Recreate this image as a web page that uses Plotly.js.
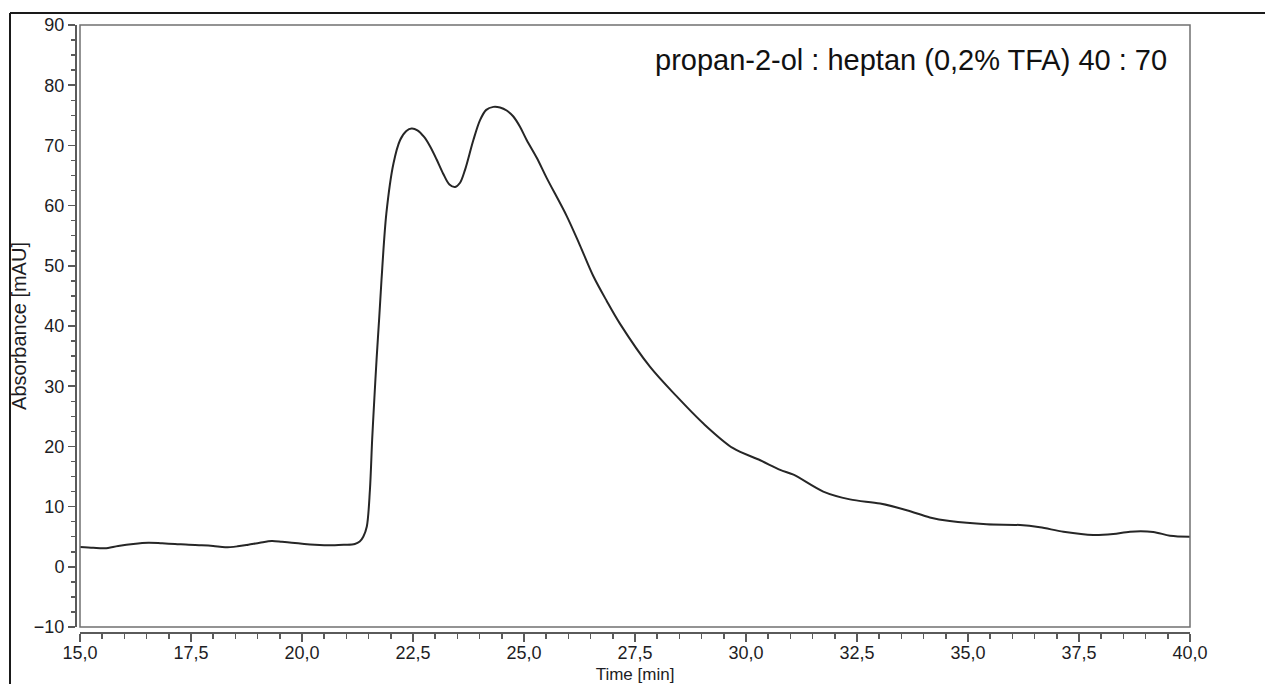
<!DOCTYPE html>
<html>
<head>
<meta charset="utf-8">
<script src="https://cdn.plot.ly/plotly-3.0.1.min.js"></script>
<style>
  html, body { margin: 0; padding: 0; background: #fff; }
  #chart { width: 1265px; height: 684px; }
</style>
</head>
<body>
<div id="chart"></div>
<script>
// Chromatogram trace: retention time [min] vs absorbance [mAU]
const timeMin = [
  15.0, 15.3, 15.56, 15.86, 16.2, 16.54, 16.85, 17.14, 17.45, 17.74,
  18.0, 18.27, 18.55, 18.79, 19.05, 19.32, 19.55, 19.77, 20.05, 20.29,
  20.5, 20.74, 20.95, 21.19, 21.3, 21.38, 21.46, 21.53, 21.58, 21.63,
  21.68, 21.74, 21.79, 21.9, 22.06, 22.21, 22.35, 22.47, 22.6, 22.75,
  22.88, 23.03, 23.18, 23.32, 23.45, 23.56, 23.67, 23.86, 24.01, 24.15,
  24.31, 24.46, 24.61, 24.76, 24.91, 25.06, 25.29, 25.51, 25.96, 26.26,
  26.56, 26.86, 27.16, 27.84, 28.44, 29.04, 29.71, 30.32, 30.77, 31.07,
  31.74, 32.34, 33.02, 33.62, 34.14, 34.59, 35.42, 36.17, 36.62, 37.15,
  37.82, 38.27, 38.65, 39.17, 39.55, 40.0
];
const absorbance = [
  3.3, 3.15, 3.07, 3.46, 3.8, 4.0, 3.9, 3.79, 3.65, 3.57,
  3.45, 3.24, 3.4, 3.67, 4.0, 4.29, 4.15, 4.0, 3.8, 3.67,
  3.6, 3.57, 3.65, 3.79, 4.2, 5.0, 6.7, 12.8, 21.1, 28.0,
  34.5, 41.5, 47.6, 58.7, 67.0, 70.9, 72.4, 72.8, 72.5, 71.4,
  69.9, 67.7, 65.3, 63.5, 63.1, 63.8, 65.9, 70.9, 74.2, 75.9,
  76.4, 76.3, 75.8, 74.8, 73.1, 70.9, 67.9, 64.6, 58.3, 53.4,
  48.3, 44.2, 40.4, 33.2, 28.3, 23.8, 19.7, 17.7, 16.1, 15.3,
  12.5, 11.2, 10.5, 9.4, 8.2, 7.6, 7.06, 6.94, 6.56, 5.83,
  5.28, 5.45, 5.83, 5.78, 5.17, 5.0
];
const xRange = [15, 40];
const yRange = [-10, 90];
const annotationText = 'propan-2-ol : heptan (0,2% TFA) 40 : 70';
const xTitle = 'Time [min]';
const yTitle = 'Absorbance [mAU]';

// page geometry in pixels
const W = 1265, H = 684;
const M = { l: 75, r: 75, t: 25, b: 52 };
const pw = W - M.l - M.r, ph = H - M.t - M.b;
const gap = 5; // axis lines sit a few pixels outside the plot box
const dx = gap / pw, dy = gap / ph;
const px = v => (v - M.l) / pw;          // pixel x -> paper x
const py = v => (H - M.b - v) / ph;      // pixel y -> paper y

const fontFam = '"Liberation Sans", Arial, Helvetica, sans-serif';
const tickColor = '#1d1d24';
const axisColor = '#5a5a5a';

const trace = {
  x: timeMin,
  y: absorbance,
  type: 'scatter',
  mode: 'lines',
  line: { color: '#262626', width: 2, shape: 'spline', smoothing: 0.9 },
  hoverinfo: 'x+y'
};

const layout = {
  width: W, height: H,
  margin: M,
  paper_bgcolor: '#ffffff',
  plot_bgcolor: '#ffffff',
  showlegend: false,
  separators: ',.',
  font: { family: fontFam, color: tickColor },
  xaxis: {
    domain: [dx, 1],
    anchor: 'free', position: 0,
    range: xRange,
    tick0: 15, dtick: 2.5, tickformat: '.1f',
    ticks: 'outside', ticklen: 8, tickwidth: 1.5, tickcolor: axisColor,
    ticklabelstandoff: -4,
    minor: { dtick: 0.5, ticks: 'outside', ticklen: 5, tickwidth: 1.5, tickcolor: axisColor, showgrid: false },
    showline: true, linecolor: axisColor, linewidth: 1.5,
    showgrid: false, zeroline: false,
    tickfont: { size: 18, family: fontFam, color: tickColor },
    title: { text: xTitle, font: { size: 17, family: fontFam, color: tickColor }, standoff: 6 }
  },
  yaxis: {
    domain: [dy, 1],
    anchor: 'free', position: 0,
    range: yRange,
    tick0: 0, dtick: 10,
    ticks: 'outside', ticklen: 7, tickwidth: 1.5, tickcolor: axisColor,
    minor: { dtick: 2.5, ticks: 'outside', ticklen: 4, tickwidth: 1.5, tickcolor: axisColor, showgrid: false },
    showline: true, linecolor: axisColor, linewidth: 1.5,
    showgrid: false, zeroline: false,
    tickfont: { size: 18, family: fontFam, color: tickColor },
    title: { text: yTitle, font: { size: 20, family: fontFam, color: tickColor }, standoff: 0 }
  },
  shapes: [
    // plot box
    { type: 'rect', xref: 'paper', yref: 'paper', x0: dx, x1: 1, y0: dy, y1: 1,
      line: { color: '#707070', width: 1.5 }, fillcolor: 'rgba(0,0,0,0)', layer: 'above' },
    // outer frame: top and left edges
    { type: 'line', xref: 'paper', yref: 'paper', x0: px(10), x1: px(W + 5), y0: py(13), y1: py(13),
      line: { color: '#1a1a1a', width: 2 } },
    { type: 'line', xref: 'paper', yref: 'paper', x0: px(10), x1: px(10), y0: py(13), y1: py(H + 5),
      line: { color: '#1a1a1a', width: 2 } }
  ],
  annotations: [
    { text: annotationText, xref: 'paper', yref: 'paper', x: px(1169), y: py(60),
      xanchor: 'right', yanchor: 'middle', showarrow: false,
      font: { size: 29, family: fontFam, color: '#111111' } }
  ]
};

Plotly.newPlot('chart', [trace], layout, { displayModeBar: false, staticPlot: true });
</script>
</body>
</html>
